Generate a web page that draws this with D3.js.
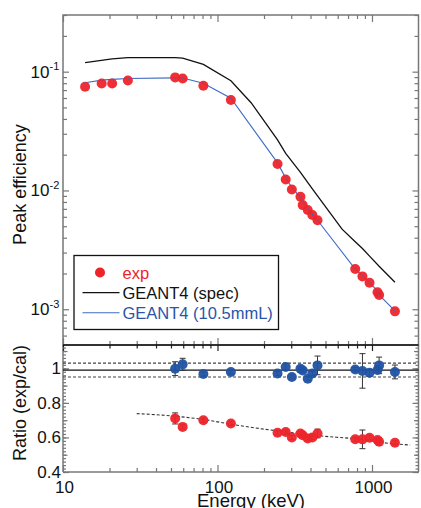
<!DOCTYPE html>
<html>
<head>
<meta charset="utf-8">
<script src="https://cdn.jsdelivr.net/npm/d3@7"></script>
<style>
  html, body { margin: 0; padding: 0; background: #fff; }
  svg { display: block; font-family: "Liberation Sans", Arial, Helvetica, sans-serif; }
</style>
</head>
<body>
<svg id="chart" width="421" height="508"></svg>
<script>
// Measured full-energy peak efficiencies (keV, absolute efficiency)
const energies = [13.9, 17.8, 20.8, 26.3, 53.2, 59.5, 81.0, 122.1, 244.7, 276.4, 302.9,
  344.3, 356.0, 383.8, 411.1, 444.0, 778.9, 867.4, 964.1, 1085.8, 1112.1, 1408.0];
const expEff = [0.0746, 0.0796, 0.0796, 0.0844, 0.0895, 0.0877, 0.0761, 0.0577, 0.01673, 0.01236, 0.01019,
  0.00885, 0.00753, 0.00685, 0.00621, 0.00561, 0.00218, 0.00189, 0.00167, 0.00139, 0.00132, 0.00096];

// GEANT4 with 10.5 mm crystal length, evaluated at the same energies
const g4LongEff = [0.0806, 0.0849, 0.0861, 0.0877, 0.0887, 0.0885, 0.0800, 0.0597, 0.01706, 0.0127, 0.0106,
  0.00875, 0.0081, 0.00705, 0.0063, 0.00561, 0.00218, 0.00192, 0.00168, 0.00142, 0.00132, 0.00097];

// GEANT4 with nominal (spec) geometry
const specEnergies = [13.9, 20.8, 26.3, 53.2, 59.5, 81.0, 122.1, 165, 205, 244.7, 276.4, 344.3,
  411.1, 640, 778.9, 867.4, 964.1, 1112.1, 1408.0];
const specEff = [0.119, 0.128, 0.1315, 0.1315, 0.130, 0.115, 0.0838, 0.0548, 0.0369, 0.0267, 0.0205, 0.0142,
  0.0103, 0.00472, 0.0037, 0.00325, 0.0028, 0.0023, 0.00169];

// Ratios exp/cal with uncertainties
const ratioEnergies = [53.2, 59.5, 81.0, 122.1, 244.7, 276.4, 302.9, 344.3, 356.0, 383.8, 411.1, 444.0,
  778.9, 867.4, 964.1, 1085.8, 1112.1, 1408.0];
const ratioLong = [0.998, 1.023, 0.967, 0.979, 0.970, 1.008, 0.950, 0.998, 0.988, 0.940, 0.970, 1.017,
  0.993, 0.985, 0.974, 0.990, 1.017, 0.979];
const ratioLongErr = [0.04, 0.035, 0.012, 0.012, 0.012, 0.02, 0.012, 0.012, 0.012, 0.012, 0.012, 0.054,
  0.012, 0.10, 0.02, 0.012, 0.048, 0.04];
const ratioSpec = [0.710, 0.661, 0.700, 0.681, 0.627, 0.632, 0.600, 0.623, 0.613, 0.594, 0.600, 0.623,
  0.590, 0.589, 0.598, 0.585, 0.575, 0.569];
const ratioSpecErr = [0.032, 0.012, 0.012, 0.012, 0.012, 0.012, 0.012, 0.012, 0.012, 0.012, 0.012, 0.025,
  0.012, 0.054, 0.012, 0.012, 0.02, 0.012];

// Smooth trend of the exp/spec ratio
const trendEnergies = [30, 53, 81, 122, 186, 260, 475, 785, 1285, 1765];
const trendRatio = [0.738, 0.723, 0.704, 0.677, 0.652, 0.635, 0.608, 0.592, 0.566, 0.556];

// Reference band for the exp/cal ratio
const refRatio = 0.99;
const bandRatio = [0.95, 1.03];

// Axis tick values
const xMajor = [10, 100, 1000];
const xMinor = [20, 30, 40, 50, 60, 70, 80, 90, 200, 300, 400, 500, 600, 700, 800, 900];
const effMajor = [1e-1, 1e-2, 1e-3];
const effExponents = ["-1", "-2", "-3"];
const effMinor = [6e-4, 7e-4, 8e-4, 9e-4, 2e-3, 3e-3, 4e-3, 5e-3, 6e-3, 7e-3, 8e-3, 9e-3,
  2e-2, 3e-2, 4e-2, 5e-2, 6e-2, 7e-2, 8e-2, 9e-2, 0.2, 0.3];
const ratioLabels = [0.4, 0.6, 0.8, 1];
const ratioMid = [0.5, 0.7, 0.9, 1.1];
const ratioMinor = d3.range(40, 114, 2).map(v => v / 100);

const RED = "#ee242b";
const BLUE_DOT = "#2152a3";
const BLUE_LINE = "#3d6cc4";
const FRAME = "#777";

const svg = d3.select("#chart");

const left = 63, right = 418.5;
const topY = 15, midY = 345, botY = 472;

const x = d3.scaleLog().domain([10, 2000]).range([left, right]);
const yEff = d3.scaleLog().domain([5e-4, 0.3]).range([midY, topY]);
const yRat = d3.scaleLinear().domain([0.4, 1.135]).range([botY, midY]);

function tickAxis(axisFn, scale, values, size, tx, ty, color) {
  const g = svg.append("g")
    .attr("transform", `translate(${tx},${ty})`)
    .call(axisFn(scale).tickValues(values).tickSize(size).tickFormat(""));
  g.select(".domain").remove();
  g.selectAll("line").attr("stroke", color).attr("stroke-width", 1.2);
  return g;
}

// ---------- upper panel ----------
// frame
svg.append("rect").attr("x", left).attr("y", topY)
  .attr("width", right - left).attr("height", midY - topY)
  .attr("fill", "none").attr("stroke", FRAME).attr("stroke-width", 1.5);

tickAxis(d3.axisTop, x, xMajor, -7, 0, topY, FRAME);
tickAxis(d3.axisTop, x, xMinor, -4, 0, topY, FRAME);
tickAxis(d3.axisBottom, x, xMajor, -7, 0, midY, FRAME);
tickAxis(d3.axisBottom, x, xMinor, -4, 0, midY, FRAME);
tickAxis(d3.axisLeft, yEff, effMajor, -6, left, 0, FRAME);
tickAxis(d3.axisLeft, yEff, effMinor, -4, left, 0, FRAME);
tickAxis(d3.axisRight, yEff, effMajor, -6, right, 0, FRAME);
tickAxis(d3.axisRight, yEff, effMinor, -4, right, 0, FRAME);

// y tick labels 10^n
effMajor.forEach((v, i) => {
  const t = svg.append("text")
    .attr("x", 49.5).attr("y", yEff(v) + 6)
    .attr("text-anchor", "end").attr("font-size", 17).attr("fill", "#111");
  t.text("10");
  svg.append("text")
    .attr("x", 49.5).attr("y", yEff(v) - 1.5)
    .attr("font-size", 11).attr("fill", "#111").text(effExponents[i]);
});

// curves
const line = (ys) => d3.line()
  .x(d => x(d[0]))
  .y(d => ys(d[1]));

svg.append("path")
  .datum(specEnergies.map((e, i) => [e, specEff[i]]))
  .attr("d", line(yEff))
  .attr("fill", "none").attr("stroke", "#111").attr("stroke-width", 1.3);

svg.append("path")
  .datum(energies.map((e, i) => [e, g4LongEff[i]]))
  .attr("d", line(yEff))
  .attr("fill", "none").attr("stroke", BLUE_LINE).attr("stroke-width", 1.1);

svg.append("g").selectAll("circle")
  .data(energies.map((e, i) => [e, expEff[i]]))
  .join("circle")
  .attr("cx", d => x(d[0])).attr("cy", d => yEff(d[1]))
  .attr("r", 5).attr("fill", RED).attr("fill-opacity", 0.95);

// small vertex markers of the GEANT4 (10.5mmL) curve
svg.append("g").selectAll("circle")
  .data(energies.map((e, i) => [e, g4LongEff[i]]))
  .join("circle")
  .attr("cx", d => x(d[0])).attr("cy", d => yEff(d[1]))
  .attr("r", 0.8).attr("fill", BLUE_LINE);

// legend
const lg = svg.append("g");
lg.append("rect").attr("x", 74).attr("y", 255.5).attr("width", 204.5).attr("height", 74)
  .attr("fill", "#fff").attr("stroke", "#111").attr("stroke-width", 1.3);
lg.append("circle").attr("cx", 100).attr("cy", 272.5).attr("r", 5).attr("fill", RED);
lg.append("text").attr("x", 122.5).attr("y", 278.5).attr("font-size", 16.5)
  .attr("fill", RED).text("exp");
lg.append("line").attr("x1", 82.5).attr("x2", 119.5).attr("y1", 292.7).attr("y2", 292.7)
  .attr("stroke", "#111").attr("stroke-width", 1.3);
lg.append("text").attr("x", 122.5).attr("y", 298.5).attr("font-size", 16.5)
  .attr("fill", "#111").text("GEANT4 (spec)");
lg.append("line").attr("x1", 82.5).attr("x2", 119.5).attr("y1", 312.7).attr("y2", 312.7)
  .attr("stroke", BLUE_LINE).attr("stroke-width", 1.1);
lg.append("text").attr("x", 122.5).attr("y", 318.5).attr("font-size", 16.5)
  .attr("fill", "#2a55a8").text("GEANT4 (10.5mmL)");

// ---------- ratio panel ----------
svg.append("line").attr("x1", left).attr("x2", left).attr("y1", midY).attr("y2", botY)
  .attr("stroke", FRAME).attr("stroke-width", 1.5);
svg.append("line").attr("x1", right).attr("x2", right).attr("y1", midY).attr("y2", botY)
  .attr("stroke", FRAME).attr("stroke-width", 1.5);
svg.append("line").attr("x1", left).attr("x2", right).attr("y1", botY).attr("y2", botY)
  .attr("stroke", FRAME).attr("stroke-width", 1.5);

tickAxis(d3.axisTop, x, xMajor, -6, 0, midY, "#222");
tickAxis(d3.axisTop, x, xMinor, -3.5, 0, midY, "#222");
tickAxis(d3.axisBottom, x, xMajor, -7, 0, botY, FRAME);
tickAxis(d3.axisBottom, x, xMinor, -4, 0, botY, FRAME);
tickAxis(d3.axisLeft, yRat, ratioLabels, -6, left, 0, FRAME);
tickAxis(d3.axisLeft, yRat, ratioMid, -4.5, left, 0, FRAME);
tickAxis(d3.axisLeft, yRat, ratioMinor, -3, left, 0, FRAME);
tickAxis(d3.axisRight, yRat, ratioLabels, -6, right, 0, FRAME);
tickAxis(d3.axisRight, yRat, ratioMid, -4.5, right, 0, FRAME);
tickAxis(d3.axisRight, yRat, ratioMinor, -3, right, 0, FRAME);

// divider between panels
svg.append("line").attr("x1", left).attr("x2", right).attr("y1", midY).attr("y2", midY)
  .attr("stroke", "#111").attr("stroke-width", 1.4);

ratioLabels.forEach(v => {
  svg.append("text").attr("x", 61).attr("y", yRat(v) + 6)
    .attr("text-anchor", "end").attr("font-size", 17).attr("fill", "#111")
    .text(v === 1 ? "1" : v.toFixed(1));
});

// reference line and band
svg.append("line").attr("x1", left).attr("x2", right)
  .attr("y1", yRat(refRatio)).attr("y2", yRat(refRatio))
  .attr("stroke", "#111").attr("stroke-width", 1.2);
bandRatio.forEach(v => {
  svg.append("line").attr("x1", left).attr("x2", right)
    .attr("y1", yRat(v)).attr("y2", yRat(v))
    .attr("stroke", "#444").attr("stroke-width", 1.1).attr("stroke-dasharray", "3,2");
});

// trend of exp/spec ratio
svg.append("path")
  .datum(trendEnergies.map((e, i) => [e, trendRatio[i]]))
  .attr("d", line(yRat).curve(d3.curveMonotoneX))
  .attr("fill", "none").attr("stroke", "#333").attr("stroke-width", 1.1)
  .attr("stroke-dasharray", "3,2");

function ratioSeries(vals, errs, color) {
  const data = ratioEnergies.map((e, i) => ({ e, v: vals[i], s: errs[i] }));
  const g = svg.append("g");
  const eb = g.selectAll("g.eb").data(data).join("g").attr("stroke", "#333").attr("stroke-width", 1);
  eb.append("line")
    .attr("x1", d => x(d.e)).attr("x2", d => x(d.e))
    .attr("y1", d => yRat(d.v - d.s)).attr("y2", d => yRat(d.v + d.s));
  eb.append("line")
    .attr("x1", d => x(d.e) - 3).attr("x2", d => x(d.e) + 3)
    .attr("y1", d => yRat(d.v + d.s)).attr("y2", d => yRat(d.v + d.s));
  eb.append("line")
    .attr("x1", d => x(d.e) - 3).attr("x2", d => x(d.e) + 3)
    .attr("y1", d => yRat(d.v - d.s)).attr("y2", d => yRat(d.v - d.s));
  g.selectAll("circle").data(data).join("circle")
    .attr("cx", d => x(d.e)).attr("cy", d => yRat(d.v))
    .attr("r", 5).attr("fill", color).attr("fill-opacity", 0.95);
}
ratioSeries(ratioLong, ratioLongErr, BLUE_DOT);
ratioSeries(ratioSpec, ratioSpecErr, RED);

// x tick labels and axis titles
xMajor.forEach(v => {
  svg.append("text").attr("x", x(v) + 1.5).attr("y", 492.5)
    .attr("text-anchor", "middle").attr("font-size", 17).attr("fill", "#111")
    .text(String(v));
});
svg.append("text").attr("x", 251).attr("y", 506.5)
  .attr("text-anchor", "middle").attr("font-size", 18.5).attr("fill", "#111")
  .text("Energy (keV)");

svg.append("text")
  .attr("transform", "translate(25.5,184.5) rotate(-90)")
  .attr("text-anchor", "middle").attr("font-size", 18).attr("fill", "#111")
  .text("Peak efficiency");
svg.append("text")
  .attr("transform", "translate(25.5,403) rotate(-90)")
  .attr("text-anchor", "middle").attr("font-size", 18).attr("fill", "#111")
  .text("Ratio (exp/cal)");
</script>
</body>
</html>
